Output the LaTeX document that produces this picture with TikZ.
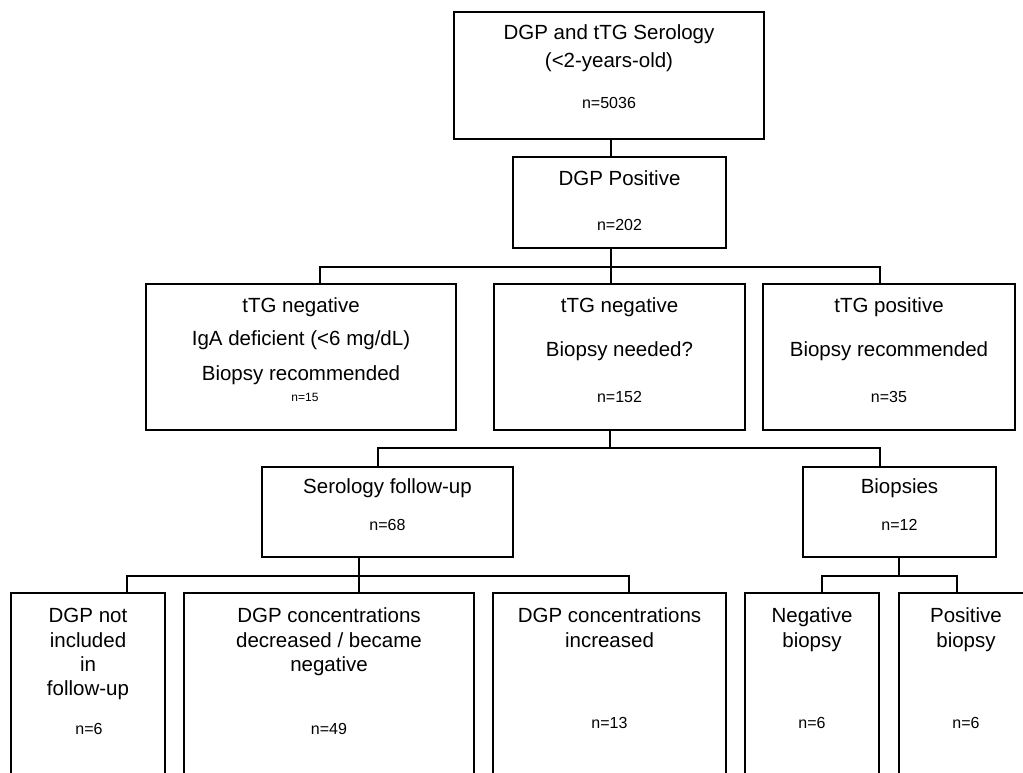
\documentclass[tikz,border=0pt]{standalone}
\usepackage{fontspec}
\setmainfont{Liberation Sans}
\begin{document}
\begin{tikzpicture}[x=1pt,y=-1pt,
  box/.style={draw, line width=1.4pt, inner sep=0pt},
  conn/.style={line width=1.4pt},
  txt/.style={font=\fontsize{20.5}{24}\selectfont, anchor=base, inner sep=0pt},
  num/.style={font=\fontsize{16}{19}\selectfont, anchor=base, inner sep=0pt},
  nums/.style={font=\fontsize{12}{14}\selectfont, anchor=base, inner sep=0pt}]
\path[use as bounding box, clip] (0,0) rectangle (1023,772);
\fill[white] (0,0) rectangle (1023,772);
% boxes
\node[box, minimum width=310pt, minimum height=127pt] (top) at (609,75.5) {};
\node[box, minimum width=213pt, minimum height=91pt] (pos) at (619.5,202.5) {};
\node[box, minimum width=310pt, minimum height=146pt] (b1) at (301,357) {};
\node[box, minimum width=251pt, minimum height=146pt] (b2) at (619.5,357) {};
\node[box, minimum width=252pt, minimum height=146pt] (b3) at (889,357) {};
\node[box, minimum width=251pt, minimum height=90pt] (ser) at (387.5,512) {};
\node[box, minimum width=193pt, minimum height=90pt] (bio) at (899.5,512) {};
\node[box, minimum width=154pt, minimum height=197pt] (bA) at (88,691.5) {};
\node[box, minimum width=290pt, minimum height=197pt] (bB) at (329,691.5) {};
\node[box, minimum width=233pt, minimum height=197pt] (bC) at (609.5,691.5) {};
\node[box, minimum width=134pt, minimum height=197pt] (bD) at (812,691.5) {};
\node[box, minimum width=134pt, minimum height=197pt] (bE) at (966,691.5) {};
% junctions
\coordinate (j1) at (611,267);
\coordinate (j2) at (610,448);
\coordinate (j3) at (359,576);
\coordinate (j4) at (899,576);
% connectors
\draw[conn] (top.south -| j1) -- (pos.north -| j1);
\draw[conn] (pos.south -| j1) -- (j1);
\draw[conn] ([xshift=19pt]b1.north) |- (j1) -| ([xshift=-9pt]b3.north);
\draw[conn] (j1) -- ([xshift=-8.5pt]b2.north);
\draw[conn] (b2.south -| j2) -- (j2);
\draw[conn] ([xshift=-9.5pt]ser.north) |- (j2) -| ([xshift=-19.5pt]bio.north);
\draw[conn] ([xshift=39pt]bA.north) |- (j3) -| ([xshift=19.5pt]bC.north);
\draw[conn] (ser.south -| j3) -- (bB.north -| j3);
\draw[conn] (bio.south -| j4) -- (j4);
\draw[conn] ([xshift=10pt]bD.north) |- (j4) -| ([xshift=-9pt]bE.north);
% texts
\node[txt] (t1) at (609,39) {DGP and tTG Serology};
\node[txt] (t2) at (609,67) {(<2-years-old)};
\node[num] (t3) at (609,108) {n=5036};
\node[txt] (p1) at (619.5,185) {DGP Positive};
\node[num] (p2) at (619.5,230) {n=202};
\node[txt] (a1) at (301,312) {tTG negative};
\node[txt] (a2) at (301,345) {IgA deficient (<6 mg/dL)};
\node[txt] (a3) at (301,380) {Biopsy recommended};
\node[nums] (a4) at (305,401) {n=15};
\node[txt] (c1) at (619.5,312) {tTG negative};
\node[txt] (c2) at (619.5,356) {Biopsy needed?};
\node[num] (c3) at (619.5,402) {n=152};
\node[txt] (d1) at (889,312) {tTG positive};
\node[txt] (d2) at (889,356) {Biopsy recommended};
\node[num] (d3) at (889,402) {n=35};
\node[txt] (s1) at (387.5,493) {Serology follow-up};
\node[num] (s2) at (387.5,530) {n=68};
\node[txt] (r1) at (899.5,493) {Biopsies};
\node[num] (r2) at (899.5,530) {n=12};
\node[txt] (e1) at (88,622) {DGP not};
\node[txt] (e2) at (88,647) {included};
\node[txt] (e3) at (88,671) {in};
\node[txt] (e4) at (88,695) {follow-up};
\node[num] (e5) at (89,734) {n=6};
\node[txt] (f1) at (329,622) {DGP concentrations};
\node[txt] (f2) at (329,647) {decreased / became};
\node[txt] (f3) at (329,671) {negative};
\node[num] (f4) at (329,734) {n=49};
\node[txt] (g1) at (609.5,622) {DGP concentrations};
\node[txt] (g2) at (609.5,647) {increased};
\node[num] (g3) at (609.5,728) {n=13};
\node[txt] (h1) at (812,622) {Negative};
\node[txt] (h2) at (812,647) {biopsy};
\node[num] (h3) at (812,728) {n=6};
\node[txt] (k1) at (966,622) {Positive};
\node[txt] (k2) at (966,647) {biopsy};
\node[num] (k3) at (966,728) {n=6};
\end{tikzpicture}
\end{document}
